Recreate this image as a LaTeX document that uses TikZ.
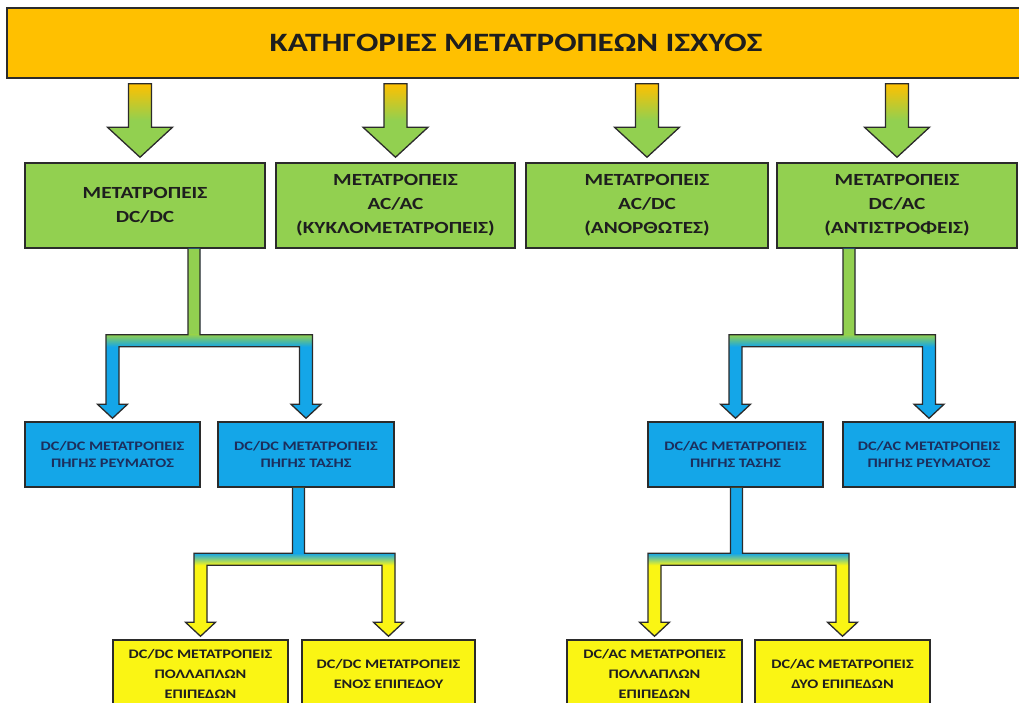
\documentclass[tikz,border=0pt]{standalone}
\usepackage{fontspec}
\newfontfamily\cb{Carlito}[FakeStretch=1.25]
\usetikzlibrary{calc}
\definecolor{ttlorange}{HTML}{FFC000}
\definecolor{boxgreen}{HTML}{92D050}
\definecolor{boxblue}{HTML}{14A6E8}
\definecolor{boxyellow}{HTML}{FAF514}
\definecolor{edge}{HTML}{2B2B2B}
\definecolor{navytxt}{HTML}{1C2E5C}
\definecolor{darktxt}{HTML}{1E1E1E}
\tikzset{
  basebox/.style={draw=edge, line width=1.5pt, rectangle, inner sep=0pt, align=center},
  titlebox/.style={basebox, fill=ttlorange, minimum width=1018pt, minimum height=70pt, text=darktxt, font=\cb\bfseries\fontsize{26.5}{30}\selectfont},
  greenbox/.style={basebox, fill=boxgreen, minimum height=85pt, text=darktxt, font=\cb\bfseries\fontsize{17}{24}\selectfont},
  bluebox/.style={basebox, fill=boxblue, minimum height=65pt, text=navytxt, font=\cb\bfseries\fontsize{13}{16.5}\selectfont},
  yellowbox/.style={basebox, fill=boxyellow, minimum height=67pt, text=darktxt, font=\cb\bfseries\fontsize{13}{20}\selectfont},
  conline/.style={draw=edge, line width=1.3pt, line join=miter}
}
% big gradient arrow from the title bar (#1) to a box (#2), shifted by #3 px
\newcommand\bigarrow[3]{%
  \path[conline, top color=ttlorange, bottom color=boxgreen, middle color=boxgreen]
    let \p1=($(#2.north)+(#3,0)$), \p2=(#1.south) in
    (\x1-11.5pt,\y2-5pt) -- (\x1+11.5pt,\y2-5pt) -- (\x1+11.5pt,\y1+35pt) -- (\x1+32.5pt,\y1+35pt)
    -- (\x1,\y1+5pt) -- (\x1-32.5pt,\y1+35pt) -- (\x1-11.5pt,\y1+35pt) -- cycle;}
% fork connector: #1 source, #2 left target, #3 right target, #4 stem shift, #5 bar drop, #6 top colour, #7 bottom colour
\newcommand\forkconn[7]{%
  \path[fill=#7] let \p1=($(#1.south)+(#4,0)$), \p2=(#2.north), \p3=(#3.north), \p4=($(#1.south)+(0,#5)$) in
    (\x1-6pt,\y1) -- (\x1-6pt,\y4) -- (\x2-6.5pt,\y4) -- (\x2-6.5pt,\y2+17pt) -- (\x2-15pt,\y2+17pt)
    -- (\x2,\y2+3pt) -- (\x2+15pt,\y2+17pt) -- (\x2+6.5pt,\y2+17pt) -- (\x2+6.5pt,\y4-12pt)
    -- (\x3-6.5pt,\y4-12pt) -- (\x3-6.5pt,\y3+17pt) -- (\x3-15pt,\y3+17pt) -- (\x3,\y3+3pt)
    -- (\x3+15pt,\y3+17pt) -- (\x3+6.5pt,\y3+17pt) -- (\x3+6.5pt,\y4) -- (\x1+6pt,\y4) -- (\x1+6pt,\y1) -- cycle;
  \path[fill=#6] let \p1=($(#1.south)+(#4,0)$), \p4=($(#1.south)+(0,#5)$) in
    (\x1-6pt,\y1) rectangle (\x1+6pt,\y4);
  \path[top color=#6, bottom color=#7] let \p2=(#2.north), \p3=(#3.north), \p4=($(#1.south)+(0,#5)$) in
    (\x2-6.5pt,\y4) rectangle (\x3+6.5pt,\y4-12pt);
  \path[conline] let \p1=($(#1.south)+(#4,0)$), \p2=(#2.north), \p3=(#3.north), \p4=($(#1.south)+(0,#5)$) in
    (\x1-6pt,\y1) -- (\x1-6pt,\y4) -- (\x2-6.5pt,\y4) -- (\x2-6.5pt,\y2+17pt) -- (\x2-15pt,\y2+17pt)
    -- (\x2,\y2+3pt) -- (\x2+15pt,\y2+17pt) -- (\x2+6.5pt,\y2+17pt) -- (\x2+6.5pt,\y4-12pt)
    -- (\x3-6.5pt,\y4-12pt) -- (\x3-6.5pt,\y3+17pt) -- (\x3-15pt,\y3+17pt) -- (\x3,\y3+3pt)
    -- (\x3+15pt,\y3+17pt) -- (\x3+6.5pt,\y3+17pt) -- (\x3+6.5pt,\y4) -- (\x1+6pt,\y4) -- (\x1+6pt,\y1);}
\begin{document}
\begin{tikzpicture}[x=1pt,y=-1pt]
\useasboundingbox (0,0) rectangle (1019,703);
\fill[white] (0,0) rectangle (1019,703);
\clip (0,0) rectangle (1019,703);
% title
\node[titlebox] (title) at (516,43) {ΚΑΤΗΓΟΡΙΕΣ ΜΕΤΑΤΡΟΠΕΩΝ ΙΣΧΥΟΣ};
% first level
\node[greenbox, minimum width=240pt] (g1) at (145,205.5) {ΜΕΤΑΤΡΟΠΕΙΣ\\DC/DC};
\node[greenbox, minimum width=239pt] (g2) at (395.5,205.5) {ΜΕΤΑΤΡΟΠΕΙΣ\\AC/AC\\(ΚΥΚΛΟΜΕΤΑΤΡΟΠΕΙΣ)};
\node[greenbox, minimum width=242pt] (g3) at (647,205.5) {ΜΕΤΑΤΡΟΠΕΙΣ\\AC/DC\\(ΑΝΟΡΘΩΤΕΣ)};
\node[greenbox, minimum width=240pt] (g4) at (897,205.5) {ΜΕΤΑΤΡΟΠΕΙΣ\\DC/AC\\(ΑΝΤΙΣΤΡΟΦΕΙΣ)};
% second level
\node[bluebox, minimum width=175pt] (b1) at (112.5,454.5) {DC/DC ΜΕΤΑΤΡΟΠΕΙΣ\\ΠΗΓΗΣ ΡΕΥΜΑΤΟΣ};
\node[bluebox, minimum width=176pt] (b2) at (306,454.5) {DC/DC ΜΕΤΑΤΡΟΠΕΙΣ\\ΠΗΓΗΣ ΤΑΣΗΣ};
\node[bluebox, minimum width=175pt] (b3) at (735.5,454.5) {DC/AC ΜΕΤΑΤΡΟΠΕΙΣ\\ΠΗΓΗΣ ΤΑΣΗΣ};
\node[bluebox, minimum width=172pt] (b4) at (929,454.5) {DC/AC ΜΕΤΑΤΡΟΠΕΙΣ\\ΠΗΓΗΣ ΡΕΥΜΑΤΟΣ};
% third level
\node[yellowbox, minimum width=175pt] (y1) at (200.5,673.5) {DC/DC ΜΕΤΑΤΡΟΠΕΙΣ\\ΠΟΛΛΑΠΛΩΝ\\ΕΠΙΠΕΔΩΝ};
\node[yellowbox, minimum width=173pt] (y2) at (388.5,673.5) {DC/DC ΜΕΤΑΤΡΟΠΕΙΣ\\ΕΝΟΣ ΕΠΙΠΕΔΟΥ};
\node[yellowbox, minimum width=175pt] (y3) at (654.5,673.5) {DC/AC ΜΕΤΑΤΡΟΠΕΙΣ\\ΠΟΛΛΑΠΛΩΝ\\ΕΠΙΠΕΔΩΝ};
\node[yellowbox, minimum width=175pt] (y4) at (842.5,673.5) {DC/AC ΜΕΤΑΤΡΟΠΕΙΣ\\ΔΥΟ ΕΠΙΠΕΔΩΝ};
% connectors
\bigarrow{title}{g1}{-5}
\bigarrow{title}{g2}{0}
\bigarrow{title}{g3}{0}
\bigarrow{title}{g4}{0}
\forkconn{g1}{b1}{b2}{49}{86}{boxgreen}{boxblue}
\forkconn{g4}{b3}{b4}{-48}{86}{boxgreen}{boxblue}
\forkconn{b2}{y1}{y2}{-7.5}{65.5}{boxblue}{boxyellow}
\forkconn{b3}{y3}{y4}{1}{65.5}{boxblue}{boxyellow}
\end{tikzpicture}
\end{document}
